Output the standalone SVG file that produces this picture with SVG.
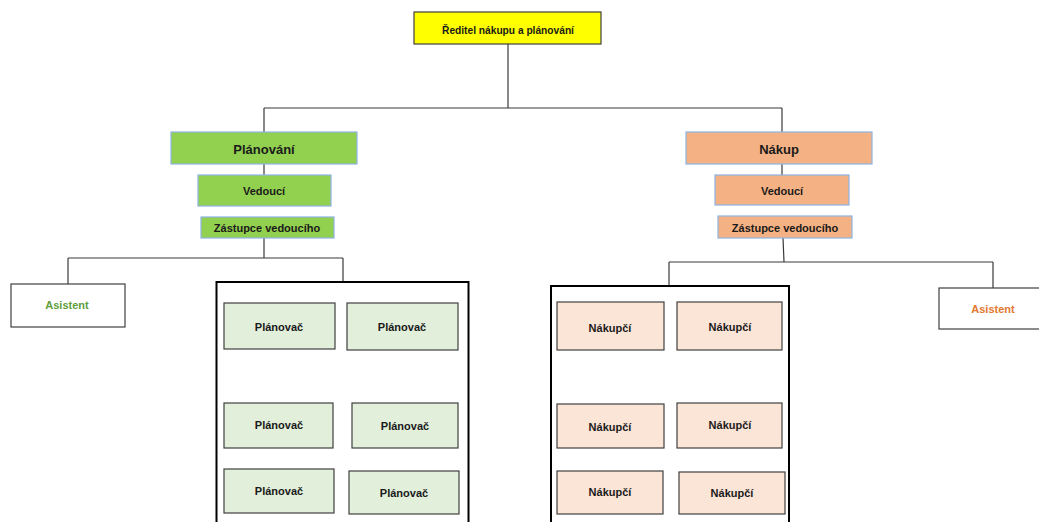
<svg xmlns="http://www.w3.org/2000/svg" width="1039" height="522" viewBox="0 0 1039 522">
<style>
text{font-family:"Liberation Sans",Arial,sans-serif;font-weight:bold;text-anchor:middle;fill:#1a1a1a}
.conn line{stroke:#3a3a3a;stroke-width:1.2;fill:none}
.top{fill:#FFFF00;stroke:#404040;stroke-width:1.2}
.green{fill:#92D050;stroke:#8EB4E3;stroke-width:1.2}
.orange{fill:#F4B183;stroke:#8EB4E3;stroke-width:1.2}
.pl{fill:#E2EFDA;stroke:#404040;stroke-width:1.2}
.nk{fill:#FBE5D6;stroke:#404040;stroke-width:1.2}
.asist{fill:#FFFFFF;stroke:#404040;stroke-width:1.2}
.cont{fill:none;stroke:#000;stroke-width:2}
.f11{font-size:11px}
.f13{font-size:13px}
</style>
<rect width="1039" height="522" fill="#FFFFFF"/>
<g class="conn" id="connectors">
<line x1="508" y1="44" x2="508" y2="108"/>
<line x1="264" y1="108" x2="782" y2="108"/>
<line x1="264" y1="108" x2="264" y2="132"/>
<line x1="782" y1="108" x2="782" y2="132"/>
<line x1="264" y1="164" x2="264" y2="175"/>
<line x1="782" y1="164" x2="782" y2="175"/>
<line x1="264" y1="238" x2="264" y2="258"/>
<line x1="68" y1="258" x2="343" y2="258"/>
<line x1="68" y1="258" x2="68" y2="284"/>
<line x1="343" y1="258" x2="343" y2="282"/>
<line x1="783" y1="238" x2="784" y2="262"/>
<line x1="669" y1="262" x2="993" y2="262"/>
<line x1="669" y1="262" x2="669" y2="286"/>
<line x1="993" y1="262" x2="993" y2="288"/>
</g>
<g id="reditel">
<rect class="top" x="414" y="12" width="187" height="32"/>
<text x="508" y="33.5" style="font-size:10.2px">Ředitel nákupu a plánování</text>
</g>
<g id="planovani">
<rect class="green" x="171" y="132" width="186" height="32"/>
<text class="f13" x="264" y="153.5">Plánování</text>
</g>
<g id="planovani-vedouci">
<rect class="green" x="198" y="175" width="133" height="31"/>
<text class="f11" x="264" y="195">Vedoucí</text>
</g>
<g id="planovani-zastupce">
<rect class="green" x="201" y="217" width="133" height="21"/>
<text class="f11" x="267" y="232">Zástupce vedoucího</text>
</g>
<g id="planovani-asistent">
<rect class="asist" x="11" y="284" width="114" height="43"/>
<text class="f11" x="67" y="309" style="fill:#5E9E3C">Asistent</text>
</g>
<g id="planovaci">
<rect class="cont" x="216.5" y="282" width="252" height="250"/>
<rect class="pl" x="224" y="303" width="111" height="46"/>
<text class="f11" x="279" y="331">Plánovač</text>
<rect class="pl" x="347" y="303" width="111" height="47"/>
<text class="f11" x="402" y="331">Plánovač</text>
<rect class="pl" x="224" y="403" width="109" height="45"/>
<text class="f11" x="279" y="429">Plánovač</text>
<rect class="pl" x="352" y="403" width="106" height="45"/>
<text class="f11" x="405" y="430">Plánovač</text>
<rect class="pl" x="224" y="469" width="110" height="44"/>
<text class="f11" x="279" y="495">Plánovač</text>
<rect class="pl" x="349" y="471" width="110" height="43"/>
<text class="f11" x="404" y="497">Plánovač</text>
</g>
<g id="nakup">
<rect class="orange" x="686" y="132" width="186" height="32"/>
<text class="f13" x="779" y="153.5">Nákup</text>
</g>
<g id="nakup-vedouci">
<rect class="orange" x="715" y="175" width="134" height="30"/>
<text class="f11" x="782" y="194.5">Vedoucí</text>
</g>
<g id="nakup-zastupce">
<rect class="orange" x="718" y="216" width="134" height="22"/>
<text class="f11" x="785" y="232">Zástupce vedoucího</text>
</g>
<g id="nakup-asistent">
<rect class="asist" x="939" y="288" width="102" height="41"/>
<text class="f11" x="993" y="313" style="fill:#E2772F">Asistent</text>
</g>
<g id="nakupci">
<rect class="cont" x="551" y="286" width="238" height="246"/>
<rect class="nk" x="557" y="302" width="107" height="48"/>
<text class="f11" x="610" y="332">Nákupčí</text>
<rect class="nk" x="677" y="302" width="105" height="48"/>
<text class="f11" x="730" y="331">Nákupčí</text>
<rect class="nk" x="557" y="404" width="107" height="44"/>
<text class="f11" x="610" y="431">Nákupčí</text>
<rect class="nk" x="677" y="403" width="105" height="45"/>
<text class="f11" x="730" y="429">Nákupčí</text>
<rect class="nk" x="557" y="471" width="106" height="43"/>
<text class="f11" x="610" y="496">Nákupčí</text>
<rect class="nk" x="679" y="472" width="106" height="42"/>
<text class="f11" x="732" y="497">Nákupčí</text>
</g>
</svg>
